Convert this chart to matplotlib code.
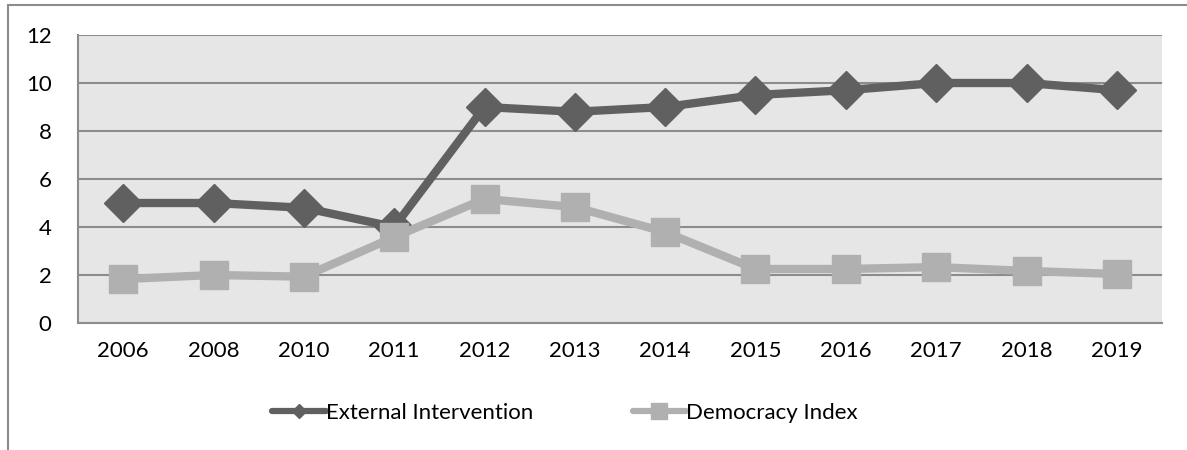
import matplotlib.pyplot as plt
from matplotlib.patches import Rectangle

years = ["2006", "2008", "2010", "2011", "2012", "2013", "2014",
         "2015", "2016", "2017", "2018", "2019"]
external_intervention = [5.0, 5.0, 4.8, 4.0, 9.0, 8.8, 9.0, 9.5, 9.7, 10.0, 10.0, 9.7]
democracy_index = [1.83, 2.0, 1.93, 3.58, 5.17, 4.83, 3.79, 2.25, 2.25, 2.33, 2.17, 2.04]
y_ticks = [0, 2, 4, 6, 8, 10, 12]

plt.rcParams['font.family'] = ['Lato', 'DejaVu Sans']

W, H = 1187, 450
fig = plt.figure(figsize=(W / 100, H / 100), dpi=100)
ax = fig.add_axes([78 / W, (H - 323) / H, (1162 - 78) / W, (323 - 35) / H])
ax.set_facecolor('#e6e6e6')

x = list(range(len(years)))
ax.plot(x, external_intervention, color='#606060', lw=6, marker='D', ms=19,
        solid_capstyle='round', label='External Intervention', zorder=2)
ax.plot(x, democracy_index, color='#b0b0b0', lw=6, marker='s', ms=20,
        solid_capstyle='round', label='Democracy Index', zorder=3)

ax.set_xlim(-0.5, len(years) - 0.5)
ax.set_ylim(0, 12)
ax.set_yticks(y_ticks)
ax.set_xticks(x)
ax.set_xticklabels(years)
ax.tick_params(length=0, labelsize=16, colors='black')
ax.tick_params(axis='y', pad=19)
ax.tick_params(axis='x', pad=13)
ax.yaxis.grid(True, color='#8c8c8c', lw=1.5)
ax.set_axisbelow(True)
for side in ['top', 'right']:
    ax.spines[side].set_visible(False)
for side in ['left', 'bottom']:
    ax.spines[side].set_color('#8c8c8c')
    ax.spines[side].set_linewidth(1.5)

leg = fig.legend(loc='center', bbox_to_anchor=(565 / W, (H - 413) / H), ncol=2,
                 frameon=False, fontsize=16, handlelength=2.4,
                 handletextpad=0.0, columnspacing=4.5)
for line, ms in zip(leg.get_lines(), [7, 12]):
    line.set_linewidth(4.5)
    line.set_markersize(ms)

# outer chart frame (right and bottom edges fall outside the canvas)
fig.patches.append(Rectangle((8 / W, -0.1), 1.2, (H - 5) / H + 0.1,
                             transform=fig.transFigure, fill=False,
                             edgecolor='#8c8c8c', lw=1.5))

fig.savefig('out.png', dpi=100)
